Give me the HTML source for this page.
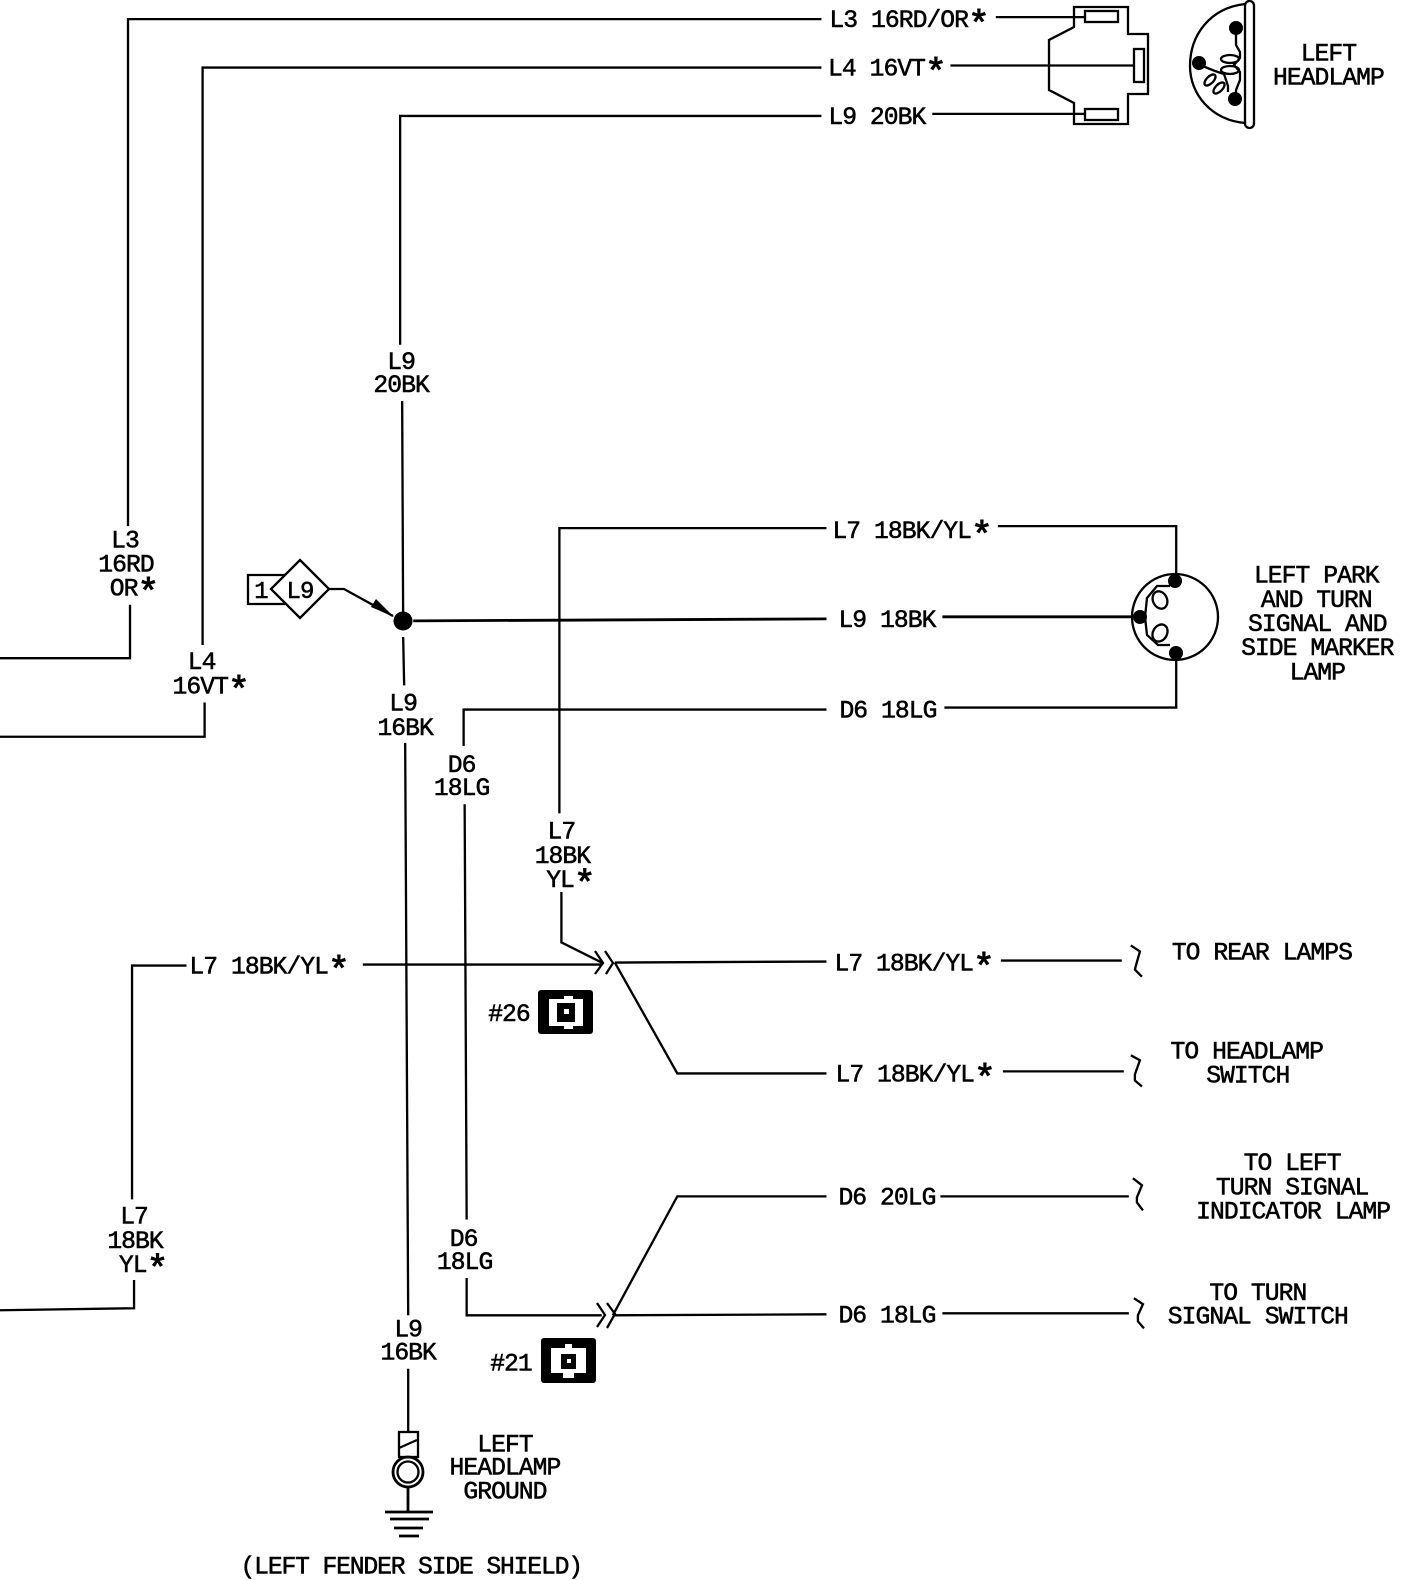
<!DOCTYPE html>
<html><head><meta charset="utf-8"><style>
html,body{margin:0;padding:0;background:#fff}
svg{display:block}
text{font-family:"Liberation Mono",monospace;font-size:24.5px;letter-spacing:-.95px;fill:#000;text-anchor:middle;stroke:#000;stroke-width:.55}
.s{font-size:36px;stroke-width:1}
.w{fill:none;stroke:#000;stroke-width:2.3}
</style></head><body>
<svg width="1408" height="1580" viewBox="0 0 1408 1580" xmlns="http://www.w3.org/2000/svg">
<g transform="scale(1.0079)">
<g class="w">
<path d="M815 19H127V522M129 600V653H0M988 17H1076"/>
<path d="M815 67H201V640M203 697V731H0M943 65H1125"/>
<path d="M815 115H397V342M925 113H1076M399 398L400 617M400 632L401 680M402 737L405 1305M405 1358V1420"/>
<path d="M820 524H555V807M990 522H1167V572"/>
<path d="M410 616L820 614M935 612H1125" stroke-width="2.8"/>
<path d="M820 704H460V740M937 702H1167V650M461 798L463 1210M463 1268V1305H597"/>
<path d="M557 885V935L597 955M360 957H597M185 958H131V1190M133 1270V1298L0 1300"/>
<path d="M610 955L820 954M993 953H1113M610 955L672 1065H820M995 1063H1115"/>
<path d="M820 1187H672L608 1305M610 1305L820 1304M933 1187H1120M935 1303H1120"/>
<path d="M1122 938L1131 944L1127 958L1126 962L1133 969"/>
<path d="M1122 1047L1131 1052L1126 1066V1072L1133 1078"/>
<path d="M1124 1169L1133 1176L1128 1188V1193L1134 1201"/>
<path d="M1125 1288L1134 1294L1129 1305V1311L1135 1318"/>
</g>
<text x="902" y="27">L3 16RD/OR<tspan class="s" dy="8">*</tspan></text>
<text x="880" y="75">L4 16VT<tspan class="s" dy="8">*</tspan></text>
<text x="870" y="123">L9 20BK</text>
<text x="1318" y="60">LEFT</text>
<text x="1318" y="84">HEADLAMP</text>
<text x="398" y="366">L9</text>
<text x="398" y="389">20BK</text>
<text x="905" y="534">L7 18BK/YL<tspan class="s" dy="8">*</tspan></text>
<text x="880" y="622">L9 18BK</text>
<text x="881" y="712">D6 18LG</text>
<text x="1306" y="578">LEFT PARK</text>
<text x="1306" y="602">AND TURN</text>
<text x="1307" y="626">SIGNAL AND</text>
<text x="1307" y="650">SIDE MARKER</text>
<text x="1307" y="674">LAMP</text>
<text x="124" y="543">L3</text>
<text x="125" y="567">16RD</text>
<text x="133" y="591">OR<tspan class="s" dy="8">*</tspan></text>
<text x="200" y="664">L4</text>
<text x="209" y="688">16VT<tspan class="s" dy="8">*</tspan></text>
<text x="400" y="705">L9</text>
<text x="402" y="729">16BK</text>
<text x="458" y="766">D6</text>
<text x="458" y="789">18LG</text>
<text x="557" y="832">L7</text>
<text x="558" y="856">18BK</text>
<text x="566" y="880">YL<tspan class="s" dy="8">*</tspan></text>
<text x="267" y="966">L7 18BK/YL<tspan class="s" dy="8">*</tspan></text>
<text x="907" y="963">L7 18BK/YL<tspan class="s" dy="8">*</tspan></text>
<text x="908" y="1073">L7 18BK/YL<tspan class="s" dy="8">*</tspan></text>
<text x="1252" y="952">TO REAR LAMPS</text>
<text x="1237" y="1050">TO HEADLAMP</text>
<text x="1238" y="1074">SWITCH</text>
<text x="505" y="1013">#26</text>
<text x="507" y="1360">#21</text>
<text x="133" y="1214">L7</text>
<text x="134" y="1238">18BK</text>
<text x="142" y="1262">YL<tspan class="s" dy="8">*</tspan></text>
<text x="460" y="1236">D6</text>
<text x="461" y="1259">18LG</text>
<text x="880" y="1195">D6 20LG</text>
<text x="880" y="1312">D6 18LG</text>
<text x="1282" y="1161">TO LEFT</text>
<text x="1282" y="1185">TURN SIGNAL</text>
<text x="1283" y="1209">INDICATOR LAMP</text>
<text x="1248" y="1290">TO TURN</text>
<text x="1248" y="1313">SIGNAL SWITCH</text>
<text x="405" y="1326">L9</text>
<text x="405" y="1349">16BK</text>
<text x="501" y="1440">LEFT</text>
<text x="501" y="1463">HEADLAMP</text>
<text x="501" y="1487">GROUND</text>
<text x="408" y="1561" style="letter-spacing:-1.15px">(LEFT FENDER SIDE SHIELD)</text>
</g>
<g class="w">
<!-- headlamp connector -->
<path d="M1074 7H1128V34H1148V94H1128V124H1074V103L1049 90V40L1074 27Z"/>
<rect x="1085" y="11" width="33" height="11"/>
<rect x="1134" y="49" width="10" height="33"/>
<rect x="1085" y="109" width="33" height="11"/>
<!-- headlamp -->
<path d="M1245 4C1210 8 1190 35 1190 66C1190 95 1212 120 1245 123"/>
<rect x="1245" y="1" width="9" height="127" rx="4.5"/>
<path d="M1236 30V45L1240 52V58L1234 65L1240 72V80L1236 90V100"/>
<ellipse cx="1230" cy="59" rx="9" ry="4"/>
<ellipse cx="1230" cy="70" rx="9" ry="4"/>
<path d="M1200 65L1215 71L1224 74L1228 86V92"/>
<ellipse cx="1210" cy="80" rx="7" ry="3.5" transform="rotate(-45 1210 80)"/>
<ellipse cx="1219" cy="88" rx="7" ry="3.5" transform="rotate(-45 1219 88)"/>
<!-- park lamp -->
<circle cx="1175" cy="617" r="43"/>
<path d="M1170 586H1157L1147 598L1145 617L1147 635L1158 645H1170"/>
<ellipse cx="1160" cy="600" rx="7" ry="9" transform="rotate(-25 1160 600)"/>
<ellipse cx="1160" cy="633" rx="7" ry="9" transform="rotate(30 1160 633)"/>
<!-- splice tag -->
<path d="M285 575H248V604H285"/>
<path d="M300 560L329 589L300 618L271 589Z" fill="#fff"/>
<path d="M329 589H344L393 616"/>
<!-- chevrons -->
<path d="M595 951L603 963L595 974M605 951L613 963L606 974"/>
<path d="M597 1303L605 1315L597 1327M607 1303L615 1314L607 1328"/>
<!-- ground -->
<rect x="399" y="1432" width="19" height="25"/>
<path d="M399 1448L417 1440"/>
<circle cx="408" cy="1472" r="15" stroke-width="2.8"/>
<circle cx="408" cy="1472" r="10.5"/>
<path d="M408 1487V1512M385 1512H433M390 1519H429M394 1528H423M399 1536H419" stroke-width="2.8"/>
</g>
<!-- filled details -->
<circle cx="1236" cy="28" r="7"/><circle cx="1199" cy="63" r="7"/><circle cx="1235" cy="99" r="7"/>
<circle cx="1175" cy="581" r="7"/><circle cx="1140" cy="617" r="7"/><circle cx="1176" cy="653" r="7"/>
<circle cx="403" cy="621" r="9.5"/>
<path d="M376 599L394 617L371 607Z"/>
<text x="261" y="598" style="font-size:24px">1</text>
<text x="300" y="598" style="font-size:24px">L9</text>
<!-- #26 -->
<rect x="538" y="990" width="55" height="44" rx="3"/>
<path d="M549 999H564V996H573V999H583V1026H573V1029H564V1026H549Z" fill="#fff"/>
<rect x="557" y="1003" width="18" height="19"/>
<rect x="564" y="1009" width="5" height="5" fill="#fff"/>
<!-- #21 -->
<rect x="541" y="1338" width="55" height="45" rx="3"/>
<path d="M551 1348H565V1344H572V1348H586V1373H574V1378H563V1373H551Z" fill="#fff"/>
<rect x="561" y="1354" width="15" height="15"/>
<rect x="567" y="1359" width="4" height="4" fill="#fff"/>
</svg>
</body></html>
